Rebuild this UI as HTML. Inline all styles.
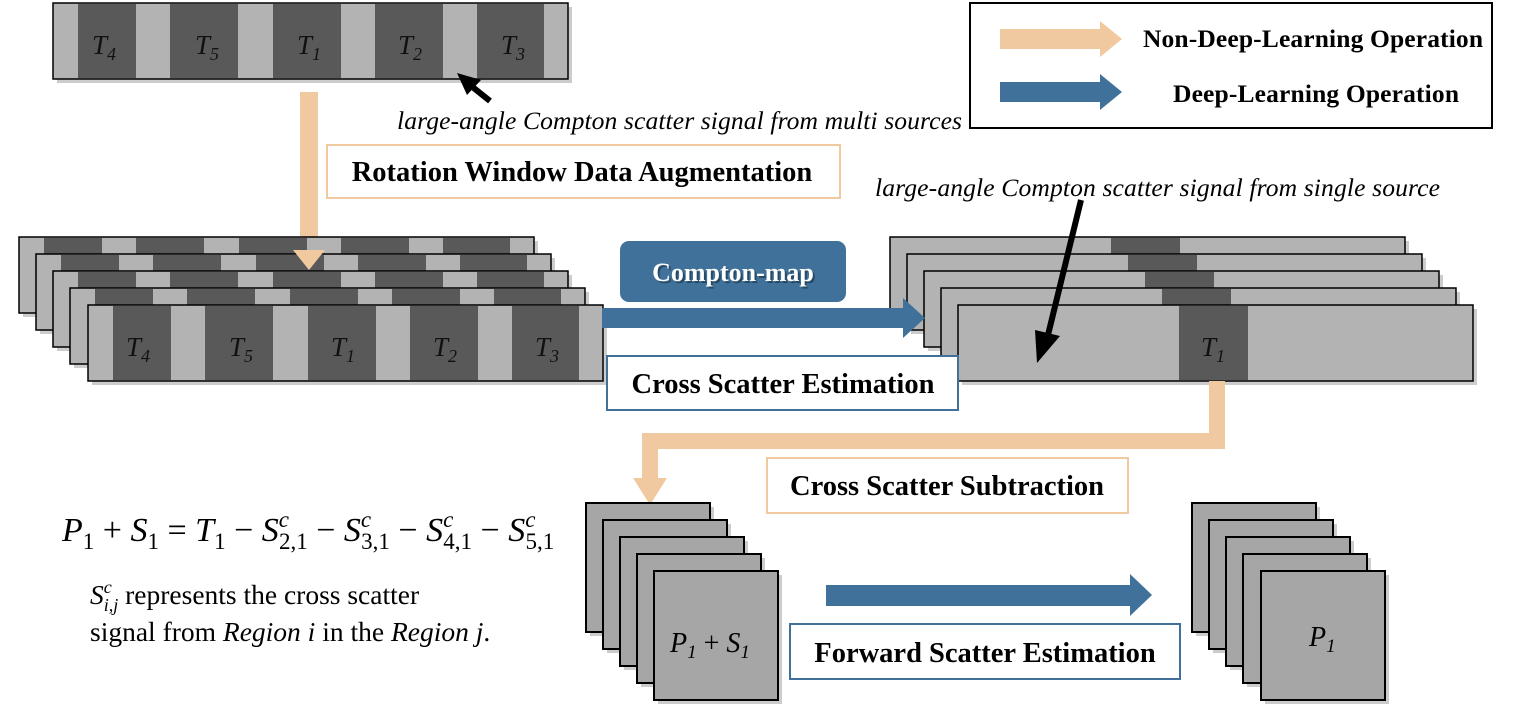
<!DOCTYPE html>
<html><head><style>
body{margin:0;background:#fff}
svg{display:block}
.t{font-family:"Liberation Serif",serif}
</style></head><body>
<svg width="1525" height="704" viewBox="0 0 1525 704" xmlns="http://www.w3.org/2000/svg">
<defs>
<g id="s">
<rect x="4" y="4" width="515" height="76" fill="#999" opacity="0.5"/>
<rect x="0" y="0" width="515" height="76" fill="#b3b3b3" stroke="#000" stroke-width="1.5"/>
<rect x="25" y="0.75" width="58" height="74.5" fill="#595959"/>
<rect x="117" y="0.75" width="68" height="74.5" fill="#595959"/>
<rect x="220" y="0.75" width="68" height="74.5" fill="#595959"/>
<rect x="322" y="0.75" width="68" height="74.5" fill="#595959"/>
<rect x="424" y="0.75" width="67" height="74.5" fill="#595959"/>
</g>
<g id="r">
<rect x="4" y="4" width="515" height="76" fill="#999" opacity="0.5"/>
<rect x="0" y="0" width="515" height="76" fill="#b3b3b3" stroke="#000" stroke-width="1.5"/>
<rect x="221" y="0.75" width="69" height="74.5" fill="#595959"/>
</g>
<g id="q">
<rect x="4" y="4" width="124" height="129" fill="#999" opacity="0.5"/>
<rect x="0" y="0" width="124" height="129" fill="#a6a6a6" stroke="#000" stroke-width="2"/>
</g>
</defs>

<!-- top strip -->
<use href="#s" x="53" y="3"/>
<g class="t" font-style="italic" font-size="27" fill="#111">
<text x="92" y="54">T<tspan font-size="18" dy="6">4</tspan></text>
<text x="195" y="54">T<tspan font-size="18" dy="6">5</tspan></text>
<text x="297" y="54">T<tspan font-size="18" dy="6">1</tspan></text>
<text x="398" y="54">T<tspan font-size="18" dy="6">2</tspan></text>
<text x="501" y="54">T<tspan font-size="18" dy="6">3</tspan></text>
</g>
<line x1="490" y1="101" x2="470" y2="85" stroke="#000" stroke-width="6"/>
<polygon points="457,73 481,80 467,95" fill="#000"/>
<text x="397" y="129" class="t" font-style="italic" font-size="25.6" textLength="565">large-angle Compton scatter signal from multi sources</text>

<!-- beige arrow down -->
<rect x="300" y="92" width="18" height="158" fill="#f0c9a0"/>

<rect x="327" y="145" width="513" height="53" fill="#fff" stroke="#f0c9a0" stroke-width="2"/>
<text x="582" y="181" class="t" font-weight="bold" font-size="28.5" text-anchor="middle">Rotation Window Data Augmentation</text>

<!-- legend -->
<rect x="970" y="3" width="522" height="125" fill="#fff" stroke="#000" stroke-width="2"/>
<rect x="1000" y="29" width="100" height="20" fill="#f0c9a0"/>
<polygon points="1100,21 1122,39 1100,57" fill="#f0c9a0"/>
<text x="1143" y="47" class="t" font-weight="bold" font-size="25.5" textLength="340">Non-Deep-Learning Operation</text>
<rect x="1000" y="82" width="100" height="20" fill="#3f719a"/>
<polygon points="1100,74 1122,92 1100,110" fill="#3f719a"/>
<text x="1173" y="102" class="t" font-weight="bold" font-size="25.5" textLength="286">Deep-Learning Operation</text>

<text x="875" y="196" class="t" font-style="italic" font-size="25.6" textLength="565">large-angle Compton scatter signal from single source</text>

<!-- left stack -->
<use href="#s" x="19" y="237"/>
<use href="#s" x="36" y="254"/>
<use href="#s" x="53" y="271"/>
<use href="#s" x="70" y="288"/>
<use href="#s" x="88" y="305"/>
<polygon points="293,250 325,250 309,270" fill="#f0c9a0"/>
<g class="t" font-style="italic" font-size="27" fill="#111">
<text x="126" y="356">T<tspan font-size="18" dy="6">4</tspan></text>
<text x="229" y="356">T<tspan font-size="18" dy="6">5</tspan></text>
<text x="331" y="356">T<tspan font-size="18" dy="6">1</tspan></text>
<text x="433" y="356">T<tspan font-size="18" dy="6">2</tspan></text>
<text x="535" y="356">T<tspan font-size="18" dy="6">3</tspan></text>
</g>

<!-- right stack -->
<use href="#r" x="890" y="237"/>
<use href="#r" x="907" y="254"/>
<use href="#r" x="924" y="271"/>
<use href="#r" x="941" y="288"/>
<use href="#r" x="958" y="305"/>
<text x="1201" y="356" class="t" font-style="italic" font-size="27" fill="#111">T<tspan font-size="18" dy="6">1</tspan></text>
<line x1="1081" y1="200" x2="1048" y2="335" stroke="#000" stroke-width="6"/>
<polygon points="1037,363 1035,330 1060,336" fill="#000"/>

<!-- compton map + blue arrow -->
<rect x="602" y="308" width="303" height="20" fill="#3f719a"/>
<polygon points="903,298 925,318 903,338" fill="#3f719a"/>
<rect x="620" y="241" width="226" height="61" rx="9" fill="#3f719a"/>
<text x="735" y="283" class="t" font-weight="bold" font-size="26" fill="#000" opacity="0.35" text-anchor="middle">Compton-map</text>
<text x="733" y="281" class="t" font-weight="bold" font-size="26" fill="#fff" text-anchor="middle">Compton-map</text>

<rect x="607" y="356" width="351" height="54" fill="#fff" stroke="#3f719a" stroke-width="2"/>
<text x="783" y="393" class="t" font-weight="bold" font-size="28.5" text-anchor="middle">Cross Scatter Estimation</text>

<!-- beige connector -->
<polyline points="1217,381 1217,441 650,441 650,485" fill="none" stroke="#f0c9a0" stroke-width="16"/>
<polygon points="633,478 667,478 650,505" fill="#f0c9a0"/>

<rect x="767" y="458" width="361" height="55" fill="#fff" stroke="#f0c9a0" stroke-width="2"/>
<text x="947" y="495" class="t" font-weight="bold" font-size="28.5" text-anchor="middle">Cross Scatter Subtraction</text>

<!-- bottom stacks -->
<use href="#q" x="586" y="503"/>
<use href="#q" x="603" y="520"/>
<use href="#q" x="620" y="537"/>
<use href="#q" x="637" y="554"/>
<use href="#q" x="654" y="571"/>
<text x="670" y="652" class="t" font-style="italic" font-size="28">P<tspan font-size="19" dy="6">1</tspan><tspan dy="-6" font-style="normal"> + </tspan>S<tspan font-size="19" dy="6">1</tspan></text>
<use href="#q" x="1192" y="503"/>
<use href="#q" x="1209" y="520"/>
<use href="#q" x="1226" y="537"/>
<use href="#q" x="1243" y="554"/>
<use href="#q" x="1261" y="571"/>
<text x="1309" y="646" class="t" font-style="italic" font-size="28">P<tspan font-size="19" dy="6">1</tspan></text>

<rect x="826" y="585" width="306" height="21" fill="#3f719a"/>
<polygon points="1130,574 1152,595 1130,616" fill="#3f719a"/>
<rect x="790" y="624" width="390" height="55" fill="#fff" stroke="#3f719a" stroke-width="2"/>
<text x="985" y="662" class="t" font-weight="bold" font-size="28.5" text-anchor="middle">Forward Scatter Estimation</text>

<!-- equation -->
<text x="62" y="541" class="t" font-size="34"><tspan font-style="italic">P</tspan><tspan font-size="23" dy="8">1</tspan><tspan dy="-8"> + </tspan><tspan font-style="italic">S</tspan><tspan font-size="23" dy="8">1</tspan><tspan dy="-8"> = </tspan><tspan font-style="italic">T</tspan><tspan font-size="23" dy="8">1</tspan><tspan dy="-8"> − </tspan><tspan font-style="italic">S</tspan><tspan font-size="23" dy="-14" font-style="italic">c</tspan><tspan font-size="23" dx="-10" dy="22">2,1</tspan><tspan dy="-8"> − </tspan><tspan font-style="italic">S</tspan><tspan font-size="23" dy="-14" font-style="italic">c</tspan><tspan font-size="23" dx="-10" dy="22">3,1</tspan><tspan dy="-8"> − </tspan><tspan font-style="italic">S</tspan><tspan font-size="23" dy="-14" font-style="italic">c</tspan><tspan font-size="23" dx="-10" dy="22">4,1</tspan><tspan dy="-8"> − </tspan><tspan font-style="italic">S</tspan><tspan font-size="23" dy="-14" font-style="italic">c</tspan><tspan font-size="23" dx="-10" dy="22">5,1</tspan></text>
<text x="90" y="604" class="t" font-size="27.5"><tspan font-style="italic">S</tspan><tspan font-size="18" font-style="italic" dy="-11">c</tspan><tspan font-size="18" font-style="italic" dx="-8" dy="18">i,j</tspan><tspan dy="-7"> represents the cross scatter</tspan></text>
<text x="90" y="641" class="t" font-size="27.5">signal from <tspan font-style="italic">Region i</tspan> in the <tspan font-style="italic">Region j</tspan>.</text>
</svg>
</body></html>
